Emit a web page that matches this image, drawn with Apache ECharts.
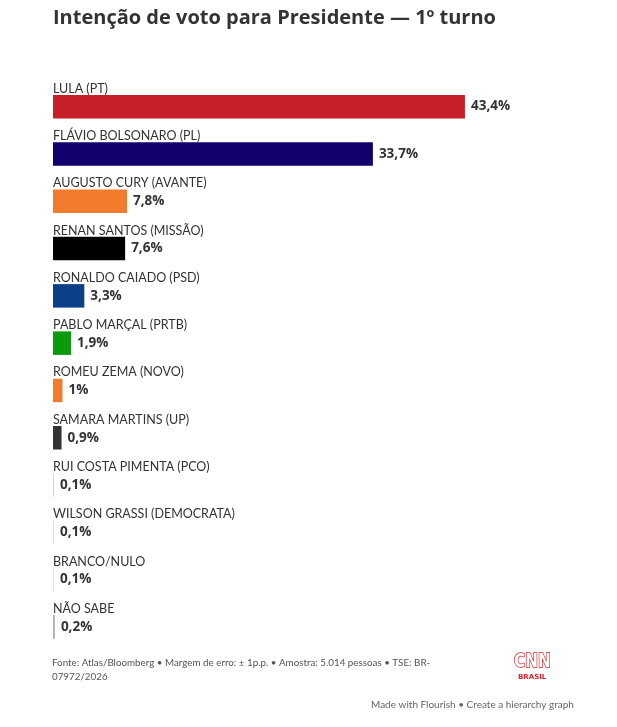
<!DOCTYPE html>
<html><head><meta charset="utf-8">
<script src="https://cdn.jsdelivr.net/npm/echarts@6/dist/echarts.min.js"></script>
<style>html,body{margin:0;padding:0;background:#fff}#c{width:617px;height:727px}</style>
</head><body><div id="c"></div>
<script>
const categories = ["LULA (PT)","FLÁVIO BOLSONARO (PL)","AUGUSTO CURY (AVANTE)","RENAN SANTOS (MISSÃO)","RONALDO CAIADO (PSD)","PABLO MARÇAL (PRTB)","ROMEU ZEMA (NOVO)","SAMARA MARTINS (UP)","RUI COSTA PIMENTA (PCO)","WILSON GRASSI (DEMOCRATA)","BRANCO/NULO","NÃO SABE"];
const values = [43.4,33.7,7.8,7.6,3.3,1.9,1,0.9,0.1,0.1,0.1,0.2];
const valueLabels = ["43,4%","33,7%","7,8%","7,6%","3,3%","1,9%","1%","0,9%","0,1%","0,1%","0,1%","0,2%"];
const colors = ["#c8202b","#13006f","#f27c2e","#000000","#0b3f87","#0a9a0a","#f27c2e","#333333","#f6c4cc","#c6ebde","#e2e2e2","#b0b0b0"];
const FONT = "Lato";
const chart = echarts.init(document.getElementById('c'), null, {renderer:'canvas'});
chart.setOption({
  animation:false,
  backgroundColor:'#fff',
  grid:{left:53, right:89.4, top:83, height:567.6, containLabel:false},
  xAxis:{type:'value', min:0, max:50, show:false},
  yAxis:{type:'category', inverse:true, data:categories,
    axisLine:{show:false}, axisTick:{show:false}, splitLine:{show:false},
    axisLabel:{inside:true, margin:0, align:'left', verticalAlign:'bottom', lineHeight:16, padding:[0,0,10,0],
      fontFamily:FONT, fontSize:12.5, color:'#333'}},
  series:[{type:'bar', barWidth:23.5, barMinHeight:1,
    data: values.map((v,i)=>({value:v, itemStyle:{color:colors[i]}})),
    label:{show:true, position:'right', distance:6, fontFamily:'Open Sans', fontWeight:'bold', fontSize:13.5, color:'#333',
      formatter:p=>valueLabels[p.dataIndex]}
  }],
  graphic:[
    {type:'text', left:53, top:8, style:{text:'Intenção de voto para Presidente — 1º turno', fontFamily:'Open Sans', fontWeight:'bold', fontSize:20, fill:'#333'}},
    {type:'text', left:52, top:656, style:{text:'Fonte: Atlas/Bloomberg • Margem de erro: ± 1p.p. • Amostra: 5.014 pessoas • TSE: BR-\n07972/2026', fontFamily:FONT, fontSize:9.8, lineHeight:14, fill:'#555'}},
    {type:'text', x:514, y:653, scaleX:0.8, style:{text:'CNN', fontFamily:'DejaVu Sans', fontWeight:'bold', fontSize:19, fill:'#fff', stroke:'#d8232a', lineWidth:1.6}},
    {type:'text', left:518, top:674, style:{text:'BRASIL', fontFamily:'DejaVu Sans', fontWeight:'bold', fontSize:7, fill:'#d8232a'}},
    {type:'text', left:371, top:700, style:{text:'Made with Flourish • Create a hierarchy graph', fontFamily:FONT, fontSize:10, fill:'#666'}}
  ]
});
</script></body></html>
